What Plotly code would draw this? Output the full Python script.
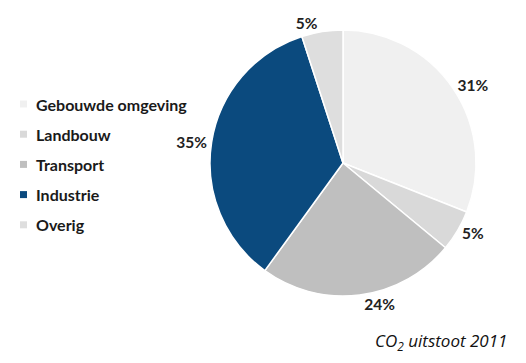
import plotly.graph_objects as go

categories = ["Gebouwde omgeving", "Landbouw", "Transport", "Industrie", "Overig"]
values = [31, 5, 24, 35, 5]
colors = ["#f0f0f0", "#d9d9d9", "#bfbfbf", "#0b4a7e", "#dedede"]
title_text = "CO<sub>2</sub> uitstoot 2011"

W, H = 526, 363
fig = go.Figure()
fig.add_trace(go.Pie(
    labels=categories, values=values, sort=False, direction="clockwise", rotation=0,
    marker=dict(colors=colors, line=dict(color="white", width=1.5)),
    texttemplate="%{value}%", textposition="outside",
    textfont=dict(family="Lato", size=15.5, color="#222222", weight="bold"),
    domain=dict(x=[(343-133)/W, (343+133)/W], y=[(200-133)/H, (200+133)/H]),
    showlegend=False, hoverinfo="label+percent",
))

# custom legend built from the category list
y0, dy = 104, 30.2
for i, (cat, col) in enumerate(zip(categories, colors)):
    yc = y0 + i * dy
    fig.add_shape(type="rect", xref="paper", yref="paper",
                  x0=20/W, x1=27/W, y0=1-(yc+3.5)/H, y1=1-(yc-3.5)/H,
                  fillcolor=col, line=dict(width=0))
    fig.add_annotation(xref="paper", yref="paper", x=34/W, y=1-yc/H,
                       text=cat, showarrow=False, xanchor="left", yanchor="middle",
                       font=dict(family="Lato", size=16, color="#1a1a1a", weight="bold"))

fig.add_annotation(xref="paper", yref="paper", x=509/W, y=1-341/H,
                   text=title_text, showarrow=False, xanchor="right", yanchor="middle",
                   font=dict(family="Open Sans", size=17, color="#111111", style="italic"))

fig.update_layout(width=W, height=H, margin=dict(l=0, r=0, t=0, b=0),
                  paper_bgcolor="white", plot_bgcolor="white")
fig.write_html("out.html")
